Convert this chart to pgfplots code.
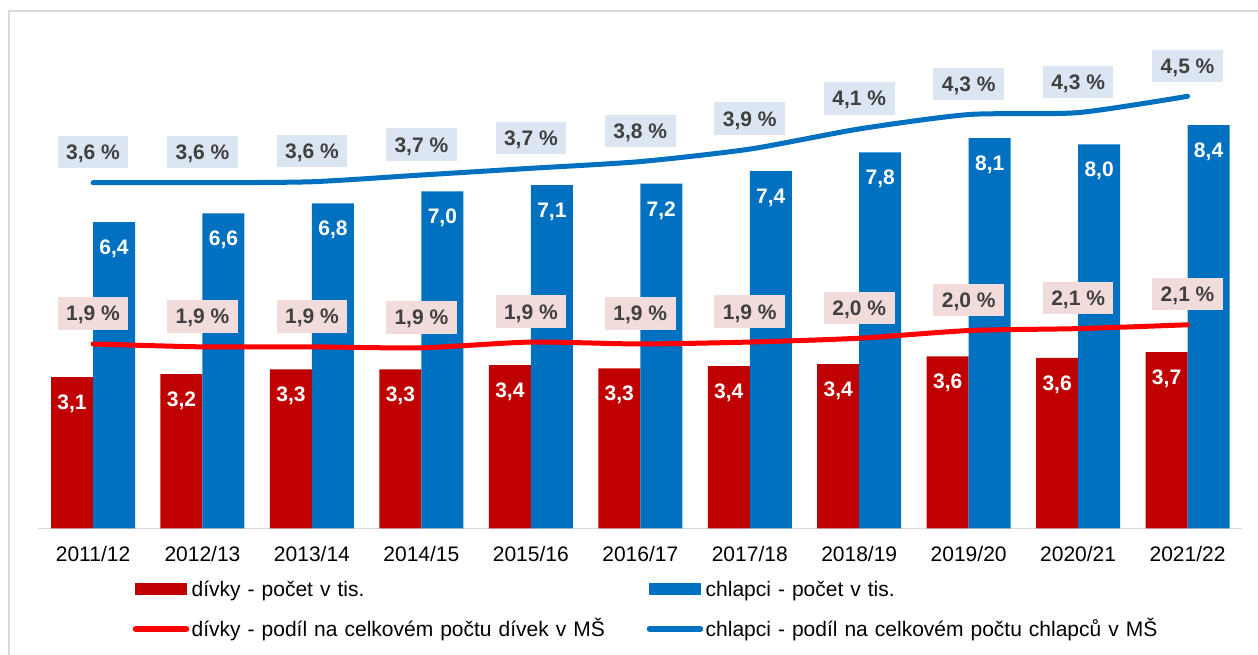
\documentclass[border=0pt]{standalone}
\usepackage{pgfplots}
\pgfplotsset{compat=1.18}
\usepackage{pgfplotstable}
\usepackage{fontspec}
\setmainfont{Liberation Sans}
\definecolor{barRed}{HTML}{C00000}
\definecolor{barBlue}{HTML}{0070C0}
\definecolor{lineRed}{HTML}{FF0000}
\definecolor{lineBlue}{HTML}{0070C0}
\definecolor{labGray}{HTML}{404040}
\definecolor{boxBlue}{HTML}{DCE6F2}
\definecolor{boxRed}{HTML}{F2DCDB}
\definecolor{frameGray}{HTML}{D9D9D9}

\pgfplotstableread{
x girls girlslab boys boyslab
0 3.15 3.1 6.38 6.4
1 3.21 3.2 6.56 6.6
2 3.31 3.3 6.77 6.8
3 3.31 3.3 7.02 7.0
4 3.40 3.4 7.15 7.1
5 3.33 3.3 7.18 7.2
6 3.38 3.4 7.44 7.4
7 3.42 3.4 7.83 7.8
8 3.58 3.6 8.13 8.1
9 3.55 3.6 8.00 8.0
10 3.67 3.7 8.40 8.4
}\counts

\pgfplotstableread{
x girls girlslab boys boyslab
0 1.92 1.9 3.60 3.6
1 1.89 1.9 3.60 3.6
2 1.89 1.9 3.61 3.6
3 1.88 1.9 3.68 3.7
4 1.94 1.9 3.75 3.7
5 1.92 1.9 3.82 3.8
6 1.94 1.9 3.95 3.9
7 1.98 2.0 4.16 4.1
8 2.06 2.0 4.31 4.3
9 2.08 2.1 4.33 4.3
10 2.12 2.1 4.50 4.5
}\shares

\begin{document}
\begin{tikzpicture}
\useasboundingbox (-38.3bp,-126.7bp) rectangle (1219.7bp,528.3bp);
\begin{axis}[
  at={(0,0)}, anchor=south west,
  scale only axis, width=1204bp, height=480bp,
  xmin=-0.5, xmax=10.5, ymin=0, ymax=10,
  axis y line=none, axis x line*=bottom,
  x axis line style={draw=frameGray, line width=1.5bp, -},
  xtick={0,...,10},
  xticklabels={2011/12,2012/13,2013/14,2014/15,2015/16,2016/17,2017/18,2018/19,2019/20,2020/21,2021/22},
  major tick length=0pt,
  xticklabel style={font=\fontsize{21bp}{25bp}\selectfont, anchor=base, yshift=-33.4bp, text=black},
  ytick=\empty,
  clip=false,
  ybar,
  bar width=0.3837,
  point meta=explicit,
  nodes near coords={\pgfmathprintnumber[fixed,fixed zerofill,precision=1,use comma,assume math mode=true]{\pgfplotspointmeta}},
  every node near coord/.append style={font=\bfseries\fontsize{21bp}{25bp}\selectfont, text=white, anchor=center, yshift=-25bp, text height=15bp, text depth=0bp, inner sep=0pt},
]
\addplot[fill=barRed, draw=none, bar shift=-0.19185] table[x=x,y=girls,meta=girlslab]{\counts};
\addplot[fill=barBlue, draw=none, bar shift=0.19185] table[x=x,y=boys,meta=boyslab]{\counts};
\end{axis}

\begin{axis}[
  at={(0,0)}, anchor=south west,
  scale only axis, width=1204bp, height=480bp,
  xmin=-0.5, xmax=10.5, ymin=0, ymax=5,
  hide axis, clip=false,
  point meta=explicit,
  nodes near coords={\pgfmathprintnumber[fixed,fixed zerofill,precision=1,use comma,assume math mode=true]{\pgfplotspointmeta} \%},
  every node near coord/.append style={font=\bfseries\fontsize{21bp}{25bp}\selectfont, text=labGray, anchor=center, yshift=30.5bp, text height=15bp, text depth=0bp, inner xsep=8.5bp, inner ysep=8.7bp},
  legend columns=2,
  legend style={at={(rel axis cs:0.0784,-0.1098)}, anchor=north west, draw=none, fill=none, inner sep=0pt, outer sep=0pt,
     font=\fontsize{21bp}{25bp}\selectfont,
     nodes={inner sep=0pt, text width=455bp, text height=15bp, text depth=4bp},
     cells={anchor=base west},
     /tikz/every odd column/.style={column sep=2.4bp},
     /tikz/every even column/.style={column sep=0pt},
     row sep=21bp},
]
\addlegendimage{legend image code/.code={\path[draw=none,fill=none] (0bp,0bp) rectangle (56.6bp,14bp); \fill[barRed, draw=none] (2.3bp,1bp) rectangle (54bp,13bp);}}
\addlegendentry{dívky - počet v tis.}
\addlegendimage{legend image code/.code={\path[draw=none,fill=none] (0bp,0bp) rectangle (56.6bp,14bp); \fill[barBlue, draw=none] (2.3bp,1bp) rectangle (54bp,13bp);}}
\addlegendentry{chlapci - počet v tis.}
\addplot[lineRed, line width=5bp, line cap=round, line join=round, smooth, tension=0.4,
  every node near coord/.append style={fill=boxRed},
  legend image code/.code={\path[draw=none,fill=none] (0bp,0bp) rectangle (56.6bp,14bp); \draw[lineRed, line width=6bp, line cap=round] (3bp,7bp) -- (53.6bp,7bp);}]
  table[x=x,y=girls,meta=girlslab]{\shares};
\addlegendentry{dívky - podíl na celkovém počtu dívek v MŠ}
\addplot[lineBlue, line width=5bp, line cap=round, line join=round, smooth, tension=0.4,
  every node near coord/.append style={fill=boxBlue},
  legend image code/.code={\path[draw=none,fill=none] (0bp,0bp) rectangle (56.6bp,14bp); \draw[lineBlue, line width=6bp, line cap=round] (3bp,7bp) -- (53.6bp,7bp);}]
  table[x=x,y=boys,meta=boyslab]{\shares};
\addlegendentry{chlapci - podíl na celkovém počtu chlapců v MŠ}
\end{axis}
\draw[frameGray, line width=2bp] (-29.3bp,-130bp) -- (-29.3bp,517.3bp) -- (1225bp,517.3bp);
\end{tikzpicture}
\end{document}
